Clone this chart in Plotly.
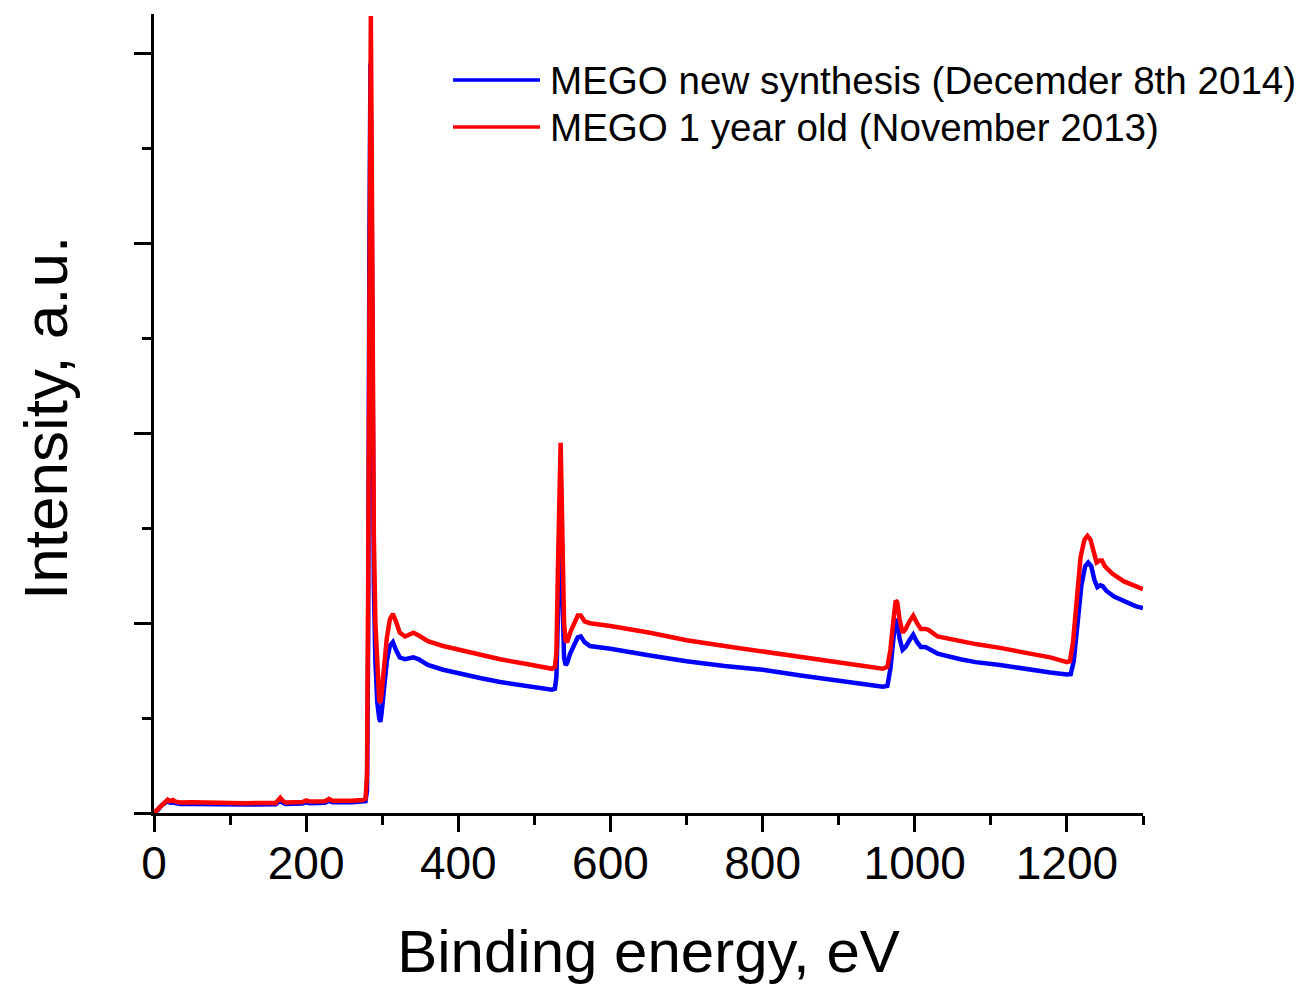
import plotly.graph_objects as go

# ---- data ----
energy_new = [0, 5, 10, 15, 18, 21, 25, 28, 35, 50, 80, 120, 160, 163, 166, 169, 173, 195, 200, 205,
              225, 230, 235, 260, 274, 278, 280, 281.5, 283, 284.5, 286, 287.5, 289, 291, 293.5, 296,
              297.5, 299, 302, 306, 310, 314, 318, 323, 330, 336, 341, 348, 360, 380, 400, 430, 455,
              490, 523, 527, 529, 531, 532.5, 534, 535.5, 537, 539, 541, 543, 547, 552, 557, 561, 566,
              573, 600, 652, 700, 750, 800, 850, 900, 958, 964, 968, 972, 975, 977, 980, 984, 988, 993,
              998, 1003, 1008, 1014, 1018, 1030, 1060, 1080, 1112, 1150, 1178, 1200, 1205, 1209, 1214,
              1219, 1224, 1228, 1232, 1236, 1240, 1244, 1247, 1252, 1262, 1277, 1290, 1300]
intensity_new = [0.0, 0.015, 0.04, 0.058, 0.062, 0.055, 0.06, 0.052, 0.047, 0.047, 0.045, 0.045, 0.046,
                 0.058, 0.066, 0.055, 0.048, 0.05, 0.056, 0.052, 0.054, 0.064, 0.056, 0.056, 0.058, 0.062,
                 0.12, 0.9, 2.9, 3.95, 3.3, 2.0, 1.2, 0.8, 0.58, 0.5, 0.48, 0.52, 0.65, 0.8, 0.88, 0.90,
                 0.86, 0.82, 0.81, 0.815, 0.82, 0.81, 0.78, 0.755, 0.735, 0.71, 0.69, 0.67, 0.65, 0.655,
                 0.72, 1.05, 1.4, 1.55, 1.35, 1.0, 0.82, 0.78, 0.79, 0.84, 0.88, 0.925, 0.93, 0.90, 0.88,
                 0.865, 0.83, 0.80, 0.775, 0.755, 0.725, 0.695, 0.665, 0.67, 0.76, 0.92, 1.02, 1.01, 0.92,
                 0.86, 0.875, 0.91, 0.94, 0.90, 0.875, 0.875, 0.865, 0.84, 0.81, 0.795, 0.78, 0.755, 0.74,
                 0.73, 0.732, 0.8, 1.0, 1.2, 1.30, 1.32, 1.30, 1.23, 1.19, 1.20, 1.195, 1.17, 1.14, 1.11,
                 1.09, 1.08]

energy_old = [0, 5, 10, 15, 18, 21, 25, 28, 35, 50, 80, 120, 160, 163, 166, 169, 173, 195, 200, 205,
              225, 230, 235, 260, 274, 278, 280, 281.5, 283, 284, 285, 286, 287.5, 289, 291, 293.5, 296,
              297.5, 299, 302, 306, 310, 314, 318, 323, 330, 336, 341, 348, 360, 380, 400, 430, 455,
              490, 523, 527, 529, 531, 532.5, 533.5, 534.5, 535.5, 537, 539, 541, 543, 547, 552, 557, 561, 566,
              573, 600, 652, 700, 750, 800, 850, 900, 958, 964, 968, 972, 975, 977, 980, 984, 988, 993,
              998, 1003, 1008, 1014, 1018, 1030, 1060, 1080, 1112, 1150, 1178, 1200, 1204, 1208, 1213,
              1218, 1223, 1227, 1231, 1235, 1239, 1243, 1246, 1250, 1260, 1275, 1290, 1300]
intensity_old = [0.0, 0.02, 0.045, 0.065, 0.07, 0.062, 0.068, 0.06, 0.055, 0.056, 0.053, 0.052, 0.053,
                 0.07, 0.08, 0.065, 0.055, 0.058, 0.066, 0.06, 0.062, 0.075, 0.064, 0.065, 0.068, 0.075,
                 0.2, 1.2, 3.2, 4.2, 4.2, 3.6, 2.3, 1.45, 1.0, 0.72, 0.6, 0.58, 0.62, 0.75, 0.92, 1.02, 1.05,
                 1.01, 0.95, 0.93, 0.94, 0.95, 0.935, 0.905, 0.88, 0.86, 0.835, 0.81, 0.785, 0.76, 0.77,
                 0.85, 1.3, 1.75, 1.95, 1.95, 1.75, 1.3, 1.0, 0.91, 0.90, 0.95, 1.0, 1.04, 1.04, 1.01, 1.0,
                 0.985, 0.95, 0.91, 0.88, 0.85, 0.82, 0.79, 0.76, 0.77, 0.86, 1.02, 1.12, 1.11, 1.02,
                 0.95, 0.97, 1.01, 1.04, 1.0, 0.97, 0.97, 0.965, 0.93, 0.905, 0.89, 0.87, 0.84, 0.82,
                 0.795, 0.80, 0.9, 1.15, 1.35, 1.44, 1.46, 1.44, 1.37, 1.32, 1.33, 1.33, 1.30, 1.26,
                 1.22, 1.195, 1.18]

series_names = ["MEGO new synthesis (Decemder 8th 2014)", "MEGO 1 year old (November 2013)"]
series_colors = ["#0000FF", "#FF0000"]

x_tickvals = [0, 200, 400, 600, 800, 1000, 1200]
x_ticktext = ["0", "200", "400", "600", "800", "1000", "1200"]
y_tickvals = [0, 1, 2, 3, 4]

FONT = "Liberation Sans, Arial, sans-serif"

fig = go.Figure()
fig.add_trace(go.Scatter(x=energy_new, y=intensity_new, mode="lines", name=series_names[0],
                         line=dict(color=series_colors[0], width=4.5), showlegend=False))
fig.add_trace(go.Scatter(x=energy_old, y=intensity_old, mode="lines", name=series_names[1],
                         line=dict(color=series_colors[1], width=4.5), showlegend=False))

# page offset (body margin) compensation
OFF = 8
W, H = 1303, 987
L, R, T, B = 154 - OFF, 160 + OFF, 14 - OFF, 174 + OFF
pw, ph = W - L - R, H - T - B


def px2paper(px, py):
    # px, py: target screen pixels
    return (px - OFF - L) / pw, 1 - (py - OFF - T) / ph


for i, (name, col) in enumerate(zip(series_names, series_colors)):
    yy = 80 + i * 47
    x0, y0 = px2paper(453, yy)
    x1, _ = px2paper(540, yy)
    fig.add_shape(type="line", xref="paper", yref="paper", x0=x0, x1=x1, y0=y0, y1=y0,
                  line=dict(color=col, width=3.5))
    tx, ty = px2paper(548, yy)
    fig.add_annotation(xref="paper", yref="paper", x=tx, y=ty, text=name, showarrow=False,
                       xanchor="left", yanchor="middle",
                       font=dict(family=FONT, size=38.6, color="black"))

# y-axis title as rotated annotation (exact placement)
yx, yy_ = px2paper(45, 418)
fig.add_annotation(xref="paper", yref="paper", x=yx, y=yy_, text="Intensity, a.u.", showarrow=False,
                   textangle=-90, xanchor="center", yanchor="middle", borderpad=0,
                   font=dict(family=FONT, size=62, color="black"))

fig.update_layout(
    width=W, height=H,
    margin=dict(l=L, r=R, t=T, b=B),
    paper_bgcolor="white", plot_bgcolor="white",
    font=dict(family=FONT, color="black"),
)
fig.update_xaxes(
    range=[0, 1300], tickvals=x_tickvals, ticktext=x_ticktext,
    ticks="outside", ticklen=16, tickwidth=2.5, tickcolor="black",
    minor=dict(dtick=100, tick0=0, ticks="outside", ticklen=9, tickwidth=2.5, tickcolor="black"),
    showline=True, linecolor="black", linewidth=2.5, showgrid=False, zeroline=False,
    tickfont=dict(family=FONT, size=46, color="black"),
    ticklabelstandoff=-8,
    title=dict(text="Binding energy, eV", font=dict(family=FONT, size=60, color="black"), standoff=43),
)
fig.update_yaxes(
    range=[0, 4.21], tickvals=y_tickvals, showticklabels=False,
    ticks="outside", ticklen=17, tickwidth=2.5, tickcolor="black",
    minor=dict(dtick=0.5, tick0=0, ticks="outside", ticklen=9, tickwidth=2.5, tickcolor="black"),
    showline=True, linecolor="black", linewidth=2.5, showgrid=False, zeroline=False,
)

fig.write_html("out.html")
